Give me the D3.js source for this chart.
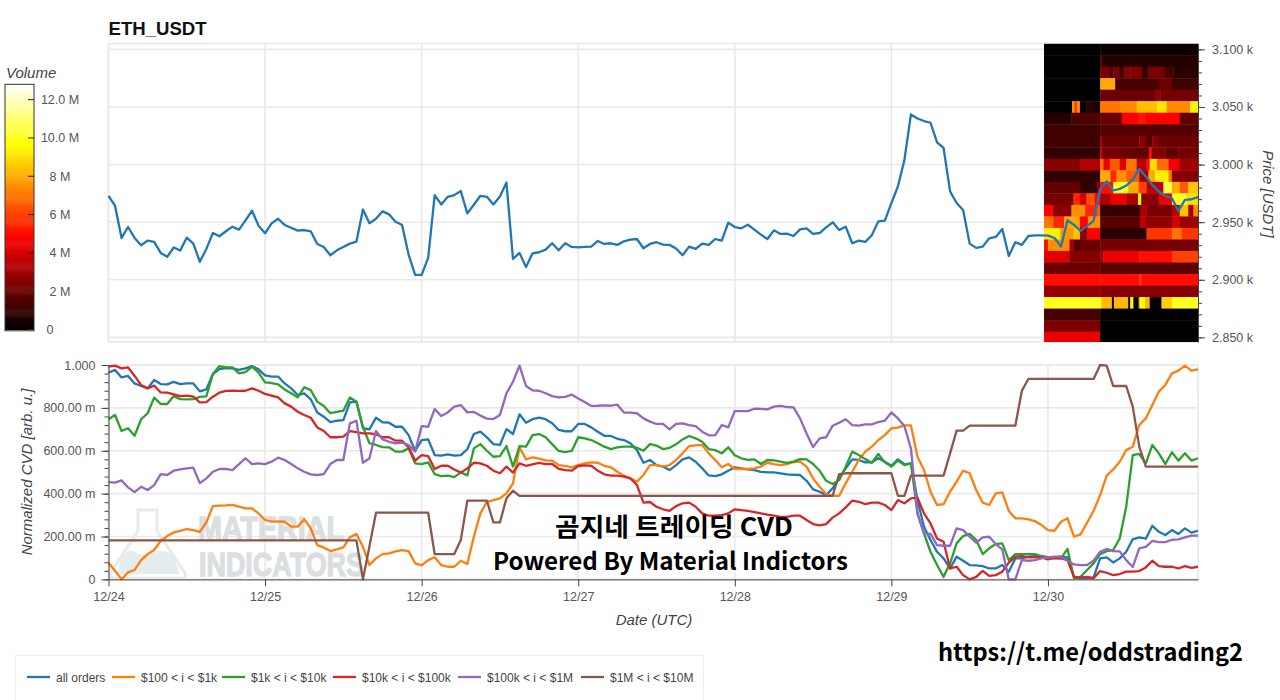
<!DOCTYPE html>
<html>
<head>
<meta charset="utf-8">
<script src="https://cdn.jsdelivr.net/npm/d3@7"></script>
<style>
  body { margin: 0; background: #fff; }
  svg { display: block; font-family: "Liberation Sans", Arial, sans-serif; }
  .tick text { fill: #555; font-size: 12.5px; }
  .axis path, .axis line { stroke: #444; }
  .grid line { stroke: #e9e9e9; stroke-width: 1.6; }
</style>
</head>
<body>
<svg id="chart" width="1280" height="700"></svg>
<script>
// hourly samples, 12/24 00:00 = hour 0
const dayTicks = [0, 24, 48, 72, 96, 120, 144];
const dayLabels = ['12/24', '12/25', '12/26', '12/27', '12/28', '12/29', '12/30'];
const priceTicks = [2850, 2900, 2950, 3000, 3050, 3100];
const cvdTicks = [0, 0.2, 0.4, 0.6, 0.8, 1];
const cvdLabels = ['0', '200.00 m', '400.00 m', '600.00 m', '800.00 m', '1.000'];
const volumeTicks = [0, 2, 4, 6, 8, 10, 12];
const volumeLabels = ['0', '2 M', '4 M', '6 M', '8 M', '10.0 M', '12.0 M'];
const seriesNames = ['all orders', '$100 < i < $1k', '$1k < i < $10k', '$10k < i < $100k', '$100k < i < $1M', '$1M < i < $10M'];

const price = [
  2972.9, 2964.3, 2936.3, 2945.8, 2936.3, 2930, 2934, 2932.9, 2923.3, 2919.9, 2928, 2925.4, 2936.6, 2931.4, 2915.6, 2926.8, 2940.6, 2937.8, 2942.1, 2946.1, 2943.5, 2951.6, 2959.9, 2947,
  2940.3, 2949, 2953, 2947.6, 2945.2, 2942.7, 2943.2, 2942.1, 2931.1, 2928.5, 2921.3, 2925.6, 2928.5, 2931.4, 2933.1, 2961, 2949, 2953, 2959.4, 2956.8, 2950.4, 2947.6, 2921.9, 2904.3,
  2904.3, 2919, 2973.5, 2965.4, 2972, 2973.5, 2977, 2957.6, 2965.1, 2972.9, 2972, 2965.4, 2972.3, 2984.4, 2918.2, 2923.3, 2911, 2923, 2923.9, 2926.2, 2931.7, 2925.6, 2931.7, 2928.5,
  2928.2, 2928.5, 2928.8, 2933.7, 2931.1, 2931.7, 2930.3, 2933.4, 2934.9, 2935.4, 2927.4, 2931.1, 2932.6, 2930.5, 2930.3, 2927.1, 2921.3, 2928.8, 2926.8, 2931.4, 2930.3, 2935.4, 2934, 2949.6,
  2945.8, 2944.7, 2947.8, 2943.5, 2939.2, 2935.4, 2942.9, 2939.8, 2940.1, 2938, 2943.8, 2944.7, 2939.8, 2940.6, 2945.5, 2949.9, 2943.2, 2946.1, 2931.7, 2934, 2932.9, 2938.6, 2950.7, 2951.3,
  2966.6, 2981, 3004, 3043.5, 3040, 3037.8, 3036.3, 3019.3, 3014.4, 2976.7, 2966.6, 2960.5, 2931.4, 2927.7, 2928.8, 2936, 2937.2, 2944.1, 2920.7, 2932.6, 2930.3, 2938, 2938.6, 2938.6,
  2938.3, 2936.3, 2928.9, 2951.7, 2947.7, 2942.5, 2946.8, 2951.2, 2978.6, 2985.3, 2977.5, 2978.9, 2981.8, 2986.7, 2996.2, 2989.6, 2982.4, 2976.6, 2972.5, 2970.8, 2959.8, 2969.4, 2969.9, 2971.7
];

const allOrders = [
  .964, .977, .942, .949, .914, .902, .891, .93, .911, .91, .921, .911, .914, .914, .877, .886, .958, .981, .986, .984, .977, .984, .995, .98,
  .952, .946, .946, .914, .891, .86, .868, .84, .778, .759, .734, .74, .743, .826, .829, .705, .7, .754, .733, .731, .712,
  .712, .673, .599, .65, .653, .58, .577, .583, .577, .58, .607, .678, .689, .663, .631, .627, .701, .678, .77, .731, .747, .754, .747, .728, .697, .691, .691, .725, .725, .709, .689, .67, .669, .656, .65, .635, .603, .544, .557, .533, .526, .51, .533, .56, .569, .549, .518, .485, .482, .49, .507, .523, .518, .513, .51, .502, .499, .499, .495, .49, .488,
  .487, .46, .42, .409, .393, .425, .471, .518, .56, .557, .546, .546, .565, .549, .53, .56, .537, .541, .37, .246, .184, .129, .098, .051, .106, .087, .067, .065, .062, .051, .051, .067, .036, .098, .098, .106, .109, .109, .103, .103, .106, .103, .009, .005, .005, .009, .098, .103, .079, .098, .129, .187, .196, .19, .25, .222, .207, .23, .212, .238, .218, .227
];

const orders100to1k = [
  .078, .04, 0, .033, .044, .09, .118, .137, .18, .202, .219, .226, .235, .23, .222, .266, .342, .344, .345, .348, .339, .331, .331, .308,
  .277, .269, .271, .269, .246, .246, .281, .238, .16, .149, .132, .14, .149, .196, .212, .152, .067, .098, .118, .121, .131,
  .137, .132, .075, .065, .09, .103, .067, .059, .059, .087, .072, .199, .308, .362, .37, .378, .401, .448, .616, .56, .569, .563, .555, .554, .533, .529, .523, .533, .541, .546, .544, .53, .523, .502, .484, .471, .456, .487, .533, .533, .526, .533, .557, .588, .622, .625, .627, .588, .557, .523, .538, .516, .515, .515, .518, .526, .544, .538, .533, .538, .547,
  .549, .526, .471, .432, .398, .39, .39, .448, .502, .557, .596, .619, .65, .673, .705, .708, .718, .718, .572, .51, .409, .347, .351, .409, .456, .507, .495, .417, .358, .347, .401, .406, .319, .285, .285, .28, .272, .254, .23, .227, .269, .285, .199, .21, .264, .32, .393, .484, .513, .549, .603, .619, .72, .751, .813, .876, .907, .961, .974, .997, .974, .98
];

const orders1kto10k = [
  .747, .767, .692, .705, .67, .747, .775, .848, .818, .818, .855, .841, .84, .841, .851, .854, .958, .995, .989, .989, .961, .967, .992, .964,
  .919, .916, .91, .886, .868, .849, .896, .883, .829, .809, .775, .781, .787, .848, .829, .712, .635, .627, .617, .616, .596,
  .596, .611, .541, .538, .546, .491, .482, .484, .477, .499, .485, .611, .631, .6, .572, .575, .622, .526, .622, .619, .673, .678, .663, .631, .599, .594, .599, .663, .658, .65, .635, .619, .608, .616, .619, .619, .614, .6, .631, .624, .608, .614, .63, .653, .669, .658, .642, .608, .603, .588, .616, .579, .565, .557, .56, .538, .557, .555, .549, .544, .549,
  .561, .56, .538, .507, .46, .445, .463, .526, .596, .58, .561, .544, .585, .546, .526, .554, .533, .541, .308, .215, .129, .067, .012, .075, .168, .202, .212, .184, .118, .145, .165, .168, .09, .118, .118, .118, .118, .109, .103, .098, .098, .142, .005, .012, .044, .075, .118, .132, .137, .191, .339, .58, .585, .541, .627, .588, .538, .593, .554, .588, .554, .565
];

const orders10kto100k = [
  .992, .997, .984, .989, .949, .907, .891, .904, .872, .871, .863, .855, .857, .852, .826, .827, .852, .871, .879, .88, .879, .88, .891, .88,
  .865, .857, .849, .821, .806, .782, .767, .754, .709, .692, .663, .663, .666, .692, .687, .681, .681, .677, .663, .663, .647,
  .647, .616, .554, .58, .575, .515, .53, .53, .513, .498, .518, .544, .541, .53, .507, .495, .526, .498, .541, .53, .537, .543, .538, .538, .516, .51, .507, .529, .532, .53, .507, .49, .484, .484, .479, .471, .44, .358, .361, .339, .327, .32, .342, .355, .358, .339, .308, .297, .297, .3, .308, .327, .323, .32, .314, .308, .302, .297, .292, .292, .297,
  .297, .277, .258, .252, .258, .288, .308, .336, .367, .362, .351, .358, .358, .347, .323, .37, .355, .378, .381, .308, .261, .191, .176, .051, .059, .02, 0, .012, .04, .016, .02, .036, .078, .106, .109, .103, .103, .103, .093, .1, .098, .09, .012, .009, .012, .005, .039, .031, .02, .025, .036, .036, .039, .056, .087, .062, .059, .059, .051, .062, .054, .059
];

const orders100kto1M = [
  .454, .451, .462, .429, .407, .432, .417, .44, .491, .487, .507, .513, .518, .521, .449, .471, .502, .515, .515, .51, .538, .565, .538, .541,
  .538, .549, .568, .557, .538, .518, .502, .49, .487, .491, .538, .557, .557, .728, .74, .544, .565, .692, .653, .642, .635,
  .638, .627, .596, .715, .712, .795, .762, .779, .806, .813, .779, .781, .764, .75, .748, .767, .868, .922, .997, .902, .882, .88, .868, .855, .849, .851, .862, .844, .827, .809, .81, .812, .81, .815, .778, .778, .775, .751, .736, .725, .725, .7, .725, .728, .72, .715, .689, .672, .673, .72, .709, .785, .785, .785, .796, .795, .793, .806, .809, .804, .802,
  .751, .681, .617, .658, .663, .717, .731, .747, .72, .717, .723, .723, .734, .74, .779, .751, .715, .611, .308, .215, .212, .16, .157, .157, .238, .23, .199, .171, .196, .199, .165, .14, 0, 0, .09, .087, .09, .098, .103, .106, .106, .087, .07, .067, .067, .087, .129, .142, .132, .131, .09, .058, .145, .152, .18, .174, .174, .185, .187, .196, .204, .204
];

const orders1Mto10M = [
  .182, .182, .182, .182, .182, .182, .182, .182, .182, .182, .182, .182, .182, .182, .182, .182, .182, .182, .182, .182, .182, .182, .182, .182,
  .182, .182, .182, .182, .182, .182, .182, .182, .182, .182, .182, .182, .182, .182, .182, 0, .155, .311, .311, .311, .311,
  .311, .311, .311, .311, .311, .118, .118, .118, .118, .184, .367, .367, .367, .367, .266, .266, .378, .414, .39, .39, .39, .39, .39, .39, .39, .39, .39, .39, .39, .39, .39, .39, .39, .39, .39, .39, .39, .39, .39, .39, .39, .39, .39, .39, .39, .39, .39, .39, .39, .39, .39, .39, .39, .39, .39, .39, .39, .39, .39, .39, .39,
  .39, .39, .39, .39, .39, .39, .491, .495, .495, .495, .495, .495, .495, .495, .495, .39, .39, .484, .484, .484, .484, .484, .484, .588, .694, .694, .717, .717, .717, .717, .717, .717, .717, .717, .88, .935, .935, .935, .935, .935, .935, .935, .935, .935, .935, .935, 1, .997, .902, .902, .902, .806, .619, .526, .526, .526, .526, .526, .526, .526, .526, .526
];

// order book volume in 10 USDT bands: [until hour, volume in M] runs, first run starts at heatStart
const heatStart = 143.4;
const heatEnd = 167;
const heatPrices = [3100, 3090, 3080, 3070, 3060, 3050, 3040, 3030, 3020, 3010, 3000, 2990, 2980, 2970, 2960, 2950, 2940, 2930, 2920, 2910, 2900, 2890, 2880, 2870, 2860, 2850];
const heatRuns = [
  [[152, 0], [167, .3]],
  [[152, 0], [152.4, 1.5], [167, .6]],
  [[152, 0], [153.5, 2.3], [154, 1.4], [155, 2.3], [155.6, 1.2], [156.6, 2.5], [158.4, 2.4], [159.4, 1], [161.9, 2.3], [163.2, 1.3], [167, .8]],
  [[152, 0], [154.3, 8], [161, 1.4], [163, 2], [167, 1.2]],
  [[152, 0], [160.4, 2], [161.2, 2.8], [167, 2.2]],
  [[147.7, 0], [148.1, 7.5], [148.4, 5.5], [148.9, 7.5], [149.9, .3], [151.2, .8], [152, .2], [155, 7], [157.6, 7.4], [160.7, 8.4], [162.2, 9.1], [165.8, 7.4], [167, 9.4]],
  [[147.6, .7], [152, 1.5], [155.3, 2], [157.8, 4.8], [159, 5.2], [164.2, 4.8], [167, 1.8]],
  [[152, 1.2], [167, 1.6]],
  [[152, 1.2], [152.3, 3], [158, 2], [159, 2.6], [160, 1.6], [161, 2.6], [167, 2]],
  [[152, .9], [152.3, 3.8], [155, 2.2], [157, 2], [159.5, 1.8], [159.9, 5], [162, 2.4], [164, 1.8], [167, 2.2]],
  [[148.9, 2.6], [152, 3.4], [152.5, 7], [153.5, 4.5], [155, 6.5], [156, 4.2], [157.6, 7], [159.1, 3.5], [159.6, 5], [160.7, 9], [162.5, 6.8], [164.2, 4.6], [167, 3]],
  [[152, .9], [153.6, 8], [154.5, 5.5], [156, 7.5], [158, 6.5], [159.4, 3], [160.4, 8], [162.5, 9.3], [163, 7], [167, 2.5]],
  [[148.9, 1.9], [151.5, .9], [152, 2.5], [154, 5], [156.3, 10], [157.9, 8], [159.1, 6], [161.7, 3.5], [163, 10.5], [164.2, 8], [165.5, 6.5], [167, 8.5]],
  [[147.9, 2.2], [148.9, 5.5], [149.9, 4], [151.2, 6.3], [152, 4.8], [153.6, 3.2], [156, 4.4], [157.8, 3.2], [158.3, 9.5], [161, 2.6], [163, 4.5], [165.2, 10], [167, 9]],
  [[144.8, 4.8], [147.6, 2.6], [149.7, 7.5], [151.5, 5.5], [152, 6.5], [158.1, 1], [159.1, 3.2], [163, 2.3], [164.2, 3.5], [165.5, 8.5], [166.3, 3.2], [167, 7.5]],
  [[144.8, 7], [146.5, 5.5], [148.9, 8], [150.1, 4.8], [152, 7.6], [158.1, 1.7], [159, 3.5], [163, 2.7], [164.2, 4], [167, 2.9]],
  [[145.9, 9.3], [147.9, 7.6], [148.9, 8.5], [150, 2.7], [152, 4.8], [159.1, .8], [163, 5.8], [164.5, 7], [167, 5.8]],
  [[144, 5], [147.3, 7.5], [148, 3], [149, 1.6], [152, 2], [167, 2.2]],
  [[147.3, 4.2], [152, 2.5], [152.5, 3], [158, 4.5], [163, 5], [167, 6]],
  [[152, 2], [167, 1.7]],
  [[152, 5], [158, 5], [158.4, 5.8], [167, 5]],
  [[152, 2.8], [167, 2.5]],
  [[152.2, 10], [153.8, 8.3], [154.1, .1], [156.3, 8.3], [156.6, .1], [157.1, 9.3], [157.9, .1], [158.1, 8], [158.9, 9.8], [159.6, 8.2], [161.4, .1], [163, 8.7], [167, 10]],
  [[152, 1.3], [167, .1]],
  [[152, 2.3], [167, .1]],
  [[152, 4.4], [167, .1]]
];

const allSeries = [allOrders, orders100to1k, orders1kto10k, orders10kto100k, orders100kto1M, orders1Mto10M];
const color = d3.scaleOrdinal(d3.schemeCategory10);

const svg = d3.select('#chart');
const left = 108.5, right = 1198;

const x = d3.scaleLinear().domain([0, 167]).range([left, right]);
const yPrice = d3.scaleLinear().domain([2846, 3105]).range([342, 43.6]);
const yCvd = d3.scaleLinear().domain([0, 1]).range([579.4, 365]);
const yVolume = d3.scaleLinear().domain([0, 12.8]).range([329.5, 84.3]);
const heatColor = d3.scaleLinear().domain([0, 4.8, 9.6, 12.8]).range(['#000000', '#ff0000', '#ffff00', '#ffffff']);

// top panel frame and grid
const frame = svg.append('g').attr('fill', 'none').attr('stroke', '#e9e9e9').attr('stroke-width', 1.6);
frame.append('rect').attr('x', left).attr('y', 43.6).attr('width', right - left).attr('height', 342 - 43.6);
frame.append('rect').attr('x', left).attr('y', 365).attr('width', right - left).attr('height', 579.4 - 365);

const gridTop = svg.append('g').attr('class', 'grid');
gridTop.selectAll('.v').data(dayTicks).enter().append('line')
  .attr('x1', d => x(d)).attr('x2', d => x(d)).attr('y1', 43.6).attr('y2', 342);
gridTop.selectAll('.h').data(priceTicks).enter().append('line')
  .attr('x1', left).attr('x2', right).attr('y1', d => yPrice(d)).attr('y2', d => yPrice(d));

const gridBottom = svg.append('g').attr('class', 'grid');
gridBottom.selectAll('.v').data(dayTicks).enter().append('line')
  .attr('x1', d => x(d)).attr('x2', d => x(d)).attr('y1', 365).attr('y2', 579.4);
gridBottom.selectAll('.h').data(cvdTicks).enter().append('line')
  .attr('x1', left).attr('x2', right).attr('y1', d => yCvd(d)).attr('y2', d => yCvd(d));

// watermark sits under the CVD lines
const mark = svg.append('g');
mark.append('path')
  .attr('d', 'M138 510 H157 V531 L185 573 Q187 578 181 578 H115 Q108 578 111 572 L138 531 Z')
  .attr('fill', 'none').attr('stroke', '#e8eaec').attr('stroke-width', 3);
mark.append('path')
  .attr('d', 'M119 569 Q119 553 131 550 Q143 558 153 552 Q166 548 174 557 L180 574 H116 Z')
  .attr('fill', '#e4ecf0');
mark.append('text').attr('x', 198).attr('y', 539.5)
  .attr('font-size', 34).attr('font-weight', 700)
  .attr('fill', '#dcdfe2').attr('stroke', '#dcdfe2').attr('stroke-width', 1.4)
  .attr('textLength', 146).attr('lengthAdjust', 'spacingAndGlyphs').text('MATERIAL');
mark.append('text').attr('x', 199).attr('y', 575.5)
  .attr('font-size', 34).attr('font-weight', 700)
  .attr('fill', '#dcdfe2').attr('stroke', '#dcdfe2').attr('stroke-width', 1.4)
  .attr('textLength', 165).attr('lengthAdjust', 'spacingAndGlyphs').text('INDICATORS');

// heatmap
svg.append('filter').attr('id', 'soft').append('feGaussianBlur').attr('stdDeviation', 0.6);
svg.append('clipPath').attr('id', 'heatClip').append('rect')
  .attr('x', x(heatStart)).attr('y', 43.6).attr('width', x(heatEnd) - x(heatStart)).attr('height', 342 - 43.6);
const heat = svg.append('g').attr('clip-path', 'url(#heatClip)').append('g').attr('filter', 'url(#soft)');
heatPrices.forEach((p, i) => {
  let from = heatStart - 1;
  heatRuns[i].forEach(run => {
    heat.append('rect')
      .attr('x', x(from)).attr('y', yPrice(p + 5))
      .attr('width', x(run[0] === heatEnd ? heatEnd + 1 : run[0]) - x(from) + 0.4)
      .attr('height', yPrice(p - 5) - yPrice(p + 5) + 0.4)
      .attr('fill', heatColor(run[1]));
    from = run[0];
  });
});

const linePath = (yScale) => d3.line().x((d, i) => x(i)).y(d => yScale(d));

svg.append('path').datum(price)
  .attr('d', linePath(yPrice))
  .attr('fill', 'none').attr('stroke', color(0)).attr('stroke-width', 2.3).attr('stroke-linejoin', 'round');

allSeries.forEach((s, i) => {
  svg.append('path').datum(s)
    .attr('d', linePath(yCvd))
    .attr('fill', 'none').attr('stroke', color(i)).attr('stroke-width', 2.3).attr('stroke-linejoin', 'round');
});

// axes
const priceMinor = d3.range(2850, 3101, 10);
const cvdMinor = d3.range(0, 1.001, 0.04);

svg.append('g').attr('class', 'axis').attr('transform', `translate(${right},0)`)
  .call(d3.axisRight(yPrice).tickValues(priceMinor).tickSize(4).tickFormat(''))
  .call(g => g.select('.domain').remove());
svg.append('g').attr('class', 'axis').attr('transform', `translate(${right},0)`)
  .call(d3.axisRight(yPrice).tickValues(priceTicks).tickSize(7).tickPadding(7).tickSizeOuter(0)
    .tickFormat(d => (d / 1000).toFixed(3) + ' k'));

svg.append('g').attr('class', 'axis').attr('transform', `translate(${left},0)`)
  .call(d3.axisLeft(yCvd).tickValues(cvdMinor).tickSize(4).tickFormat(''))
  .call(g => g.select('.domain').remove());
svg.append('g').attr('class', 'axis').attr('transform', `translate(${left},0)`)
  .call(d3.axisLeft(yCvd).tickValues(cvdTicks).tickSize(7).tickPadding(6).tickSizeOuter(0)
    .tickFormat((d, i) => cvdLabels[i]));

svg.append('g').attr('class', 'axis').attr('transform', 'translate(0,579.4)')
  .call(d3.axisBottom(x).tickValues(dayTicks).tickSize(7).tickPadding(6).tickSizeOuter(0)
    .tickFormat((d, i) => dayLabels[i]));

// volume colour bar
const barSteps = d3.range(0, 12.8, 0.05);
svg.append('g').selectAll('rect').data(barSteps).enter().append('rect')
  .attr('x', 5).attr('width', 29)
  .attr('y', d => yVolume(d + 0.05))
  .attr('height', d => yVolume(d) - yVolume(d + 0.05) + 0.5)
  .attr('fill', d => heatColor(d));
svg.append('rect').attr('x', 5).attr('y', 84.3).attr('width', 29).attr('height', 246.5)
  .attr('fill', 'none').attr('stroke', '#333').attr('stroke-width', 1);
svg.append('g').selectAll('line').data(volumeTicks).enter().append('line')
  .attr('x1', 28).attr('x2', 34)
  .attr('y1', d => yVolume(d)).attr('y2', d => yVolume(d))
  .attr('stroke', '#222');
svg.append('g').selectAll('text').data(volumeTicks).enter().append('text')
  .attr('x', d => d === 0 ? 50 : 60).attr('y', d => yVolume(d) + 4.5)
  .attr('text-anchor', 'middle').attr('font-size', 12.5).attr('fill', '#555')
  .text((d, i) => volumeLabels[i]);

// titles
const addText = (str, px, py, size, opts = {}) => svg.append('text')
  .attr('x', px).attr('y', py).attr('font-size', size)
  .attr('fill', opts.fill || '#444')
  .attr('font-style', opts.italic ? 'italic' : null)
  .attr('font-weight', opts.weight || null)
  .attr('text-anchor', opts.anchor || 'start')
  .attr('font-family', opts.family || null)
  .attr('textLength', opts.length || null)
  .attr('lengthAdjust', opts.length ? 'spacingAndGlyphs' : null)
  .attr('transform', opts.rotate ? `rotate(${opts.rotate} ${px} ${py})` : null)
  .text(str);

addText('ETH_USDT', 108.5, 34.5, 18.6, { fill: '#111', weight: 700 });
addText('Volume', 6, 78, 15, { italic: true });
addText('Price [USDT]', 1263, 194, 15, { italic: true, anchor: 'middle', rotate: 90 });
addText('Normalized CVD [arb. u.]', 32, 472, 15, { italic: true, anchor: 'middle', rotate: -90 });
addText('Date (UTC)', 654, 625, 15, { italic: true, anchor: 'middle' });

// caption text over the chart
const cjk = '"Noto Sans CJK KR", sans-serif';
addText('곰지네 트레이딩 CVD', 555, 536, 25, { fill: '#000', weight: 700, family: cjk, length: 238 });
addText('Powered By Material Indictors', 493, 570, 24, { fill: '#000', weight: 700, family: cjk, length: 355 });
addText('https://t.me/oddstrading2', 938, 661, 24, { fill: '#000', weight: 700, family: cjk, length: 305 });

// legend
svg.append('rect').attr('x', 15.5).attr('y', 655.5).attr('width', 688).attr('height', 60)
  .attr('fill', '#fff').attr('stroke', '#eeeeee');
const legendX = [27, 112, 222, 333, 458, 581];
seriesNames.forEach((name, i) => {
  svg.append('line')
    .attr('x1', legendX[i]).attr('x2', legendX[i] + 23).attr('y1', 677).attr('y2', 677)
    .attr('stroke', color(i)).attr('stroke-width', 2.3);
  svg.append('text').attr('x', legendX[i] + 29).attr('y', 681.5)
    .attr('font-size', 12).attr('fill', '#444').text(name);
});
</script>
</body>
</html>
